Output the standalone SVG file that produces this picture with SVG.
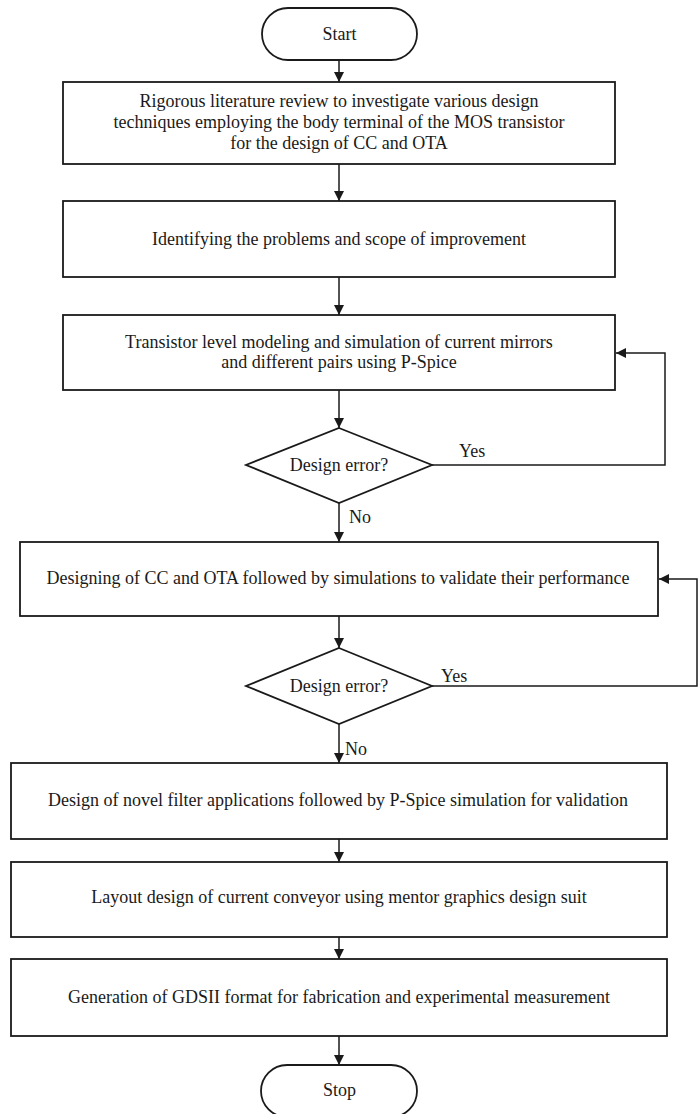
<svg xmlns="http://www.w3.org/2000/svg" width="698" height="1114" viewBox="0 0 698 1114">
<defs>
<marker id="ah" markerWidth="10" markerHeight="10" refX="10" refY="5" orient="auto" markerUnits="userSpaceOnUse">
<path d="M0,0 L10,5 L0,10 Z" fill="#1a1a1a"/>
</marker>
<style>
.box{fill:#fff;stroke:#1a1a1a;stroke-width:1.8}
.ln{fill:none;stroke:#1a1a1a;stroke-width:1.5}
.t{font-family:"Liberation Serif","Times New Roman",serif;font-size:18px;fill:#1a1a1a;text-anchor:middle}
.l{font-family:"Liberation Serif","Times New Roman",serif;font-size:18px;fill:#1a1a1a}
</style>
</defs>
<rect width="698" height="1114" fill="#fff"/>
<g id="connectors">
<line class="ln" x1="339" y1="60" x2="339" y2="82" marker-end="url(#ah)"/>
<line class="ln" x1="339" y1="164" x2="339" y2="201" marker-end="url(#ah)"/>
<line class="ln" x1="339" y1="277" x2="339" y2="315" marker-end="url(#ah)"/>
<line class="ln" x1="339" y1="390" x2="339" y2="428" marker-end="url(#ah)"/>
<polyline class="ln" points="432,465 665,465 665,353 616,353" marker-end="url(#ah)"/>
<line class="ln" x1="339" y1="503" x2="339" y2="542" marker-end="url(#ah)"/>
<line class="ln" x1="339" y1="616" x2="339" y2="648" marker-end="url(#ah)"/>
<polyline class="ln" points="432,686 697,686 697,579 659,579" marker-end="url(#ah)"/>
<line class="ln" x1="339" y1="724" x2="339" y2="763" marker-end="url(#ah)"/>
<line class="ln" x1="339" y1="839" x2="339" y2="862" marker-end="url(#ah)"/>
<line class="ln" x1="339" y1="937" x2="339" y2="959" marker-end="url(#ah)"/>
<line class="ln" x1="339" y1="1036" x2="339" y2="1065" marker-end="url(#ah)"/>
<text class="l" x="459" y="457">Yes</text>
<text class="l" x="349" y="523">No</text>
<text class="l" x="441" y="682">Yes</text>
<text class="l" x="345" y="755">No</text>
</g>
<g id="start">
<rect class="box" x="262" y="8" width="155" height="52" rx="26" ry="26"/>
<text class="t" x="339.5" y="40">Start</text>
</g>
<g id="review">
<rect class="box" x="63" y="82" width="552" height="82"/>
<text class="t" x="339" y="107">Rigorous literature review to investigate various design</text>
<text class="t" x="339" y="128">techniques employing the body terminal of the MOS transistor</text>
<text class="t" x="339" y="149">for the design of CC and OTA</text>
</g>
<g id="identify">
<rect class="box" x="63" y="201" width="552" height="76"/>
<text class="t" x="339" y="245">Identifying the problems and scope of improvement</text>
</g>
<g id="transistor">
<rect class="box" x="63" y="315" width="552" height="75"/>
<text class="t" x="339" y="348">Transistor level modeling and simulation of current mirrors</text>
<text class="t" x="339" y="368">and different pairs using P-Spice</text>
</g>
<g id="decision1">
<polygon class="box" points="339,428 432,465 339,503 246,465"/>
<text class="t" x="339" y="471">Design error?</text>
</g>
<g id="designing">
<rect class="box" x="20" y="542" width="638" height="74"/>
<text class="t" x="338" y="584">Designing of CC and OTA followed by simulations to validate their performance</text>
</g>
<g id="decision2">
<polygon class="box" points="339,648 432,686 339,724 246,686"/>
<text class="t" x="339" y="692">Design error?</text>
</g>
<g id="filter">
<rect class="box" x="11" y="763" width="656" height="76"/>
<text class="t" x="338" y="806">Design of novel filter applications followed by P-Spice simulation for validation</text>
</g>
<g id="layout">
<rect class="box" x="11" y="862" width="656" height="75"/>
<text class="t" x="339" y="903">Layout design of current conveyor using mentor graphics design suit</text>
</g>
<g id="gdsii">
<rect class="box" x="11" y="959" width="656" height="77"/>
<text class="t" x="339" y="1003">Generation of GDSII format for fabrication and experimental measurement</text>
</g>
<g id="stop">
<rect class="box" x="261" y="1065" width="156" height="52" rx="26" ry="26"/>
<text class="t" x="339.5" y="1096">Stop</text>
</g>
</svg>
